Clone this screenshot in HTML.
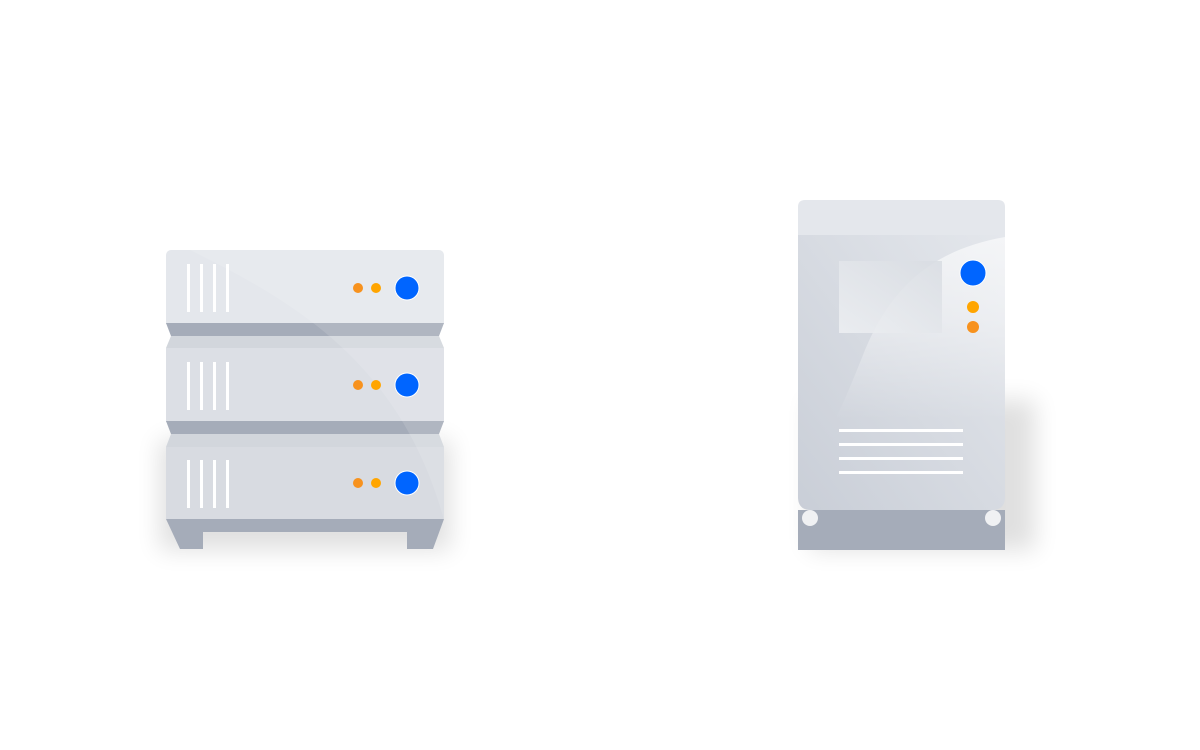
<!DOCTYPE html>
<html><head><meta charset="utf-8"><style>html,body{margin:0;padding:0;background:#fff;width:1200px;height:750px;overflow:hidden}</style></head>
<body>
<svg width="1200" height="750" viewBox="0 0 1200 750" xmlns="http://www.w3.org/2000/svg">
<defs>
<filter id="sh" x="-30%" y="-30%" width="160%" height="160%"><feGaussianBlur stdDeviation="12"/></filter>
<linearGradient id="tg" x1="0" y1="1" x2="1" y2="0"><stop offset="0" stop-color="#c9ced7"/><stop offset="1" stop-color="#e4e7ec"/></linearGradient>
<linearGradient id="wg" x1="0" y1="1" x2="1" y2="0"><stop offset="0" stop-color="#eef0f3"/><stop offset="1" stop-color="#d8dce2"/></linearGradient>
<linearGradient id="gl" x1="0" y1="0" x2="0" y2="1"><stop offset="0" stop-color="#fff" stop-opacity="0.6"/><stop offset="0.45" stop-color="#fff" stop-opacity="0.4"/><stop offset="1" stop-color="#fff" stop-opacity="0"/></linearGradient>
<clipPath id="rackclip"><rect x="166" y="250" width="278" height="270"/></clipPath>
<clipPath id="towclip"><path d="M798,235 H1005 V497 Q1005,507 995,507 H808 Q798,507 798,497 Z"/></clipPath>
</defs>
<!-- shadows -->
<rect x="160" y="440" width="290" height="110" fill="#000" opacity="0.12" filter="url(#sh)"/>
<rect x="810" y="400" width="225" height="150" fill="#000" opacity="0.12" filter="url(#sh)"/>
<!-- RACK -->
<g>
<rect x="166" y="250" width="278" height="74" rx="5" fill="#e4e7ec"/>
<rect x="166" y="260" width="278" height="64" fill="#e4e7ec"/>
<polygon points="166,323 444,323 439,336 171,336" fill="#a5acb9"/>
<polygon points="171,336 439,336 444,348 166,348" fill="#d2d6dc"/>
<rect x="166" y="348" width="278" height="74" fill="#dcdfe5"/>
<polygon points="166,421 444,421 439,434 171,434" fill="#a5acb9"/>
<polygon points="171,434 439,434 444,447 166,447" fill="#d2d6dc"/>
<rect x="166" y="447" width="278" height="72" fill="#d8dbe1"/>
<path d="M166,519 H444 L433,549 H407 V532 H203 V549 H180 Z" fill="#a5acb9"/>
<g clip-path="url(#rackclip)">
<path d="M190,250 C290,300 400,360 444,520 L444,250 Z" fill="#fff" opacity="0.12"/>
</g>
<g fill="#fff">
<rect x="187" y="264" width="3" height="48"/><rect x="200" y="264" width="3" height="48"/><rect x="213" y="264" width="3" height="48"/><rect x="226" y="264" width="3" height="48"/>
<rect x="187" y="362" width="3" height="48"/><rect x="200" y="362" width="3" height="48"/><rect x="213" y="362" width="3" height="48"/><rect x="226" y="362" width="3" height="48"/>
<rect x="187" y="460" width="3" height="48"/><rect x="200" y="460" width="3" height="48"/><rect x="213" y="460" width="3" height="48"/><rect x="226" y="460" width="3" height="48"/>
</g>
<g>
<circle cx="358" cy="288" r="5" fill="#f7921e"/><circle cx="376" cy="288" r="5" fill="#ffa500"/><circle cx="407" cy="288" r="12" fill="#0065ff" stroke="#fff" stroke-width="1"/>
<circle cx="358" cy="385" r="5" fill="#f7921e"/><circle cx="376" cy="385" r="5" fill="#ffa500"/><circle cx="407" cy="385" r="12" fill="#0065ff" stroke="#fff" stroke-width="1"/>
<circle cx="358" cy="483" r="5" fill="#f7921e"/><circle cx="376" cy="483" r="5" fill="#ffa500"/><circle cx="407" cy="483" r="12" fill="#0065ff" stroke="#fff" stroke-width="1"/>
</g>
</g>
<!-- TOWER -->
<g>
<path d="M798,510 H1005 V550 H798 Z" fill="#a5acb9"/>
<circle cx="810" cy="518" r="8" fill="#f0f1f3"/>
<circle cx="993" cy="518" r="8" fill="#f0f1f3"/>
<path d="M798,235 H1005 V497 Q1005,510 992,510 H811 Q798,510 798,497 Z" fill="url(#tg)"/>
<path d="M805,200 H998 Q1005,200 1005,207 V235 H798 V207 Q798,200 805,200 Z" fill="#e4e7ec"/>
<g clip-path="url(#towclip)">
<path d="M1005,237 C930,250 890,290 865,350 C855,375 845,400 835,420 L1005,420 Z" fill="url(#gl)"/>
</g>
<rect x="839" y="261" width="103" height="72" fill="url(#wg)" opacity="0.85"/>
<circle cx="973" cy="273" r="13" fill="#0065ff" stroke="#fff" stroke-width="1"/>
<circle cx="973" cy="307" r="6" fill="#ffa500"/>
<circle cx="973" cy="327" r="6" fill="#f7921e"/>
<g fill="#fff"><rect x="839" y="429" width="124" height="3"/><rect x="839" y="443" width="124" height="3"/><rect x="839" y="457" width="124" height="3"/><rect x="839" y="471" width="124" height="3"/></g>
</g>
</svg>
</body></html>
